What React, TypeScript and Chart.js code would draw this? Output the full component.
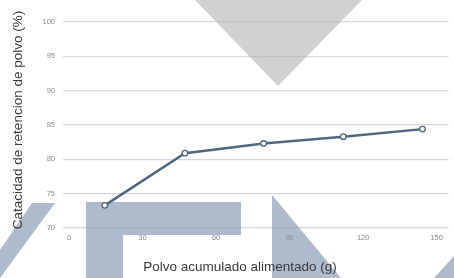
import React, { useEffect, useRef } from "react";
import { Chart, registerables } from "chart.js";

Chart.register(...registerables);

const xValues = [14.6, 47.3, 79.4, 111.9, 144.2];
const yValues = [73.3, 80.9, 82.3, 83.3, 84.4];
const xTicks = [0, 30, 60, 90, 120, 150];
const xTitle = "Polvo acumulado alimentado (g)";
const yTitle = "Catacidad de retencion de polvo (%)";

const watermark = {
  id: "watermark",
  beforeDatasetsDraw(chart: any) {
    const ctx = chart.ctx;
    ctx.save();
    ctx.fillStyle = "rgba(175,175,175,0.58)";
    ctx.beginPath();
    ctx.moveTo(195, 0);
    ctx.lineTo(362, 0);
    ctx.lineTo(278, 86);
    ctx.closePath();
    ctx.fill();
    ctx.fillStyle = "rgba(125,145,172,0.62)";
    ctx.beginPath();
    ctx.moveTo(0, 250);
    ctx.lineTo(32, 203);
    ctx.lineTo(55, 203);
    ctx.lineTo(0, 278);
    ctx.closePath();
    ctx.fill();
    ctx.beginPath();
    ctx.moveTo(86, 202);
    ctx.lineTo(241, 202);
    ctx.lineTo(241, 235);
    ctx.lineTo(123, 235);
    ctx.lineTo(123, 278);
    ctx.lineTo(86, 278);
    ctx.closePath();
    ctx.fill();
    ctx.beginPath();
    ctx.moveTo(272, 195);
    ctx.lineTo(341, 278);
    ctx.lineTo(272, 278);
    ctx.closePath();
    ctx.fill();
    ctx.beginPath();
    ctx.moveTo(454, 256);
    ctx.lineTo(454, 278);
    ctx.lineTo(434, 278);
    ctx.closePath();
    ctx.fill();
    ctx.restore();
  },
};

const axisTitles = {
  id: "axisTitles",
  afterDraw(chart: any) {
    const ctx = chart.ctx;
    ctx.save();
    ctx.fillStyle = "#3a3a3a";
    ctx.font = "13.5px 'Liberation Sans'";
    ctx.textAlign = "center";
    ctx.textBaseline = "middle";
    ctx.fillText(xTitle, 240, 267);
    ctx.translate(18, 120);
    ctx.rotate(-Math.PI / 2);
    ctx.fillText(yTitle, 0, 0);
    ctx.restore();
  },
};

export default function App() {
  const ref = useRef<HTMLCanvasElement>(null);
  useEffect(() => {
    document.body.style.margin = "0";
    const chart = new Chart(ref.current as HTMLCanvasElement, {
      type: "scatter",
      data: {
        datasets: [
          {
            data: xValues.map((x, i) => ({ x, y: yValues[i] })),
            showLine: true,
            borderColor: "#52687f",
            borderWidth: 2.5,
            pointRadius: 2.8,
            pointBorderWidth: 1.3,
            pointBackgroundColor: "#ffffff",
            pointBorderColor: "#4f6680",
          },
        ],
      },
      plugins: [watermark, axisTitles],
      options: {
        animation: false,
        responsive: false,
        layout: { padding: { top: 22, right: 0, left: 0, bottom: 0 } },
        plugins: { legend: { display: false }, tooltip: { enabled: false } },
        scales: {
          x: {
            type: "linear",
            min: -2.44,
            max: 154.9,
            afterBuildTicks: (s: any) => {
              s.ticks = xTicks.map((v) => ({ value: v }));
            },
            afterFit: (s: any) => {
              s.height = 50;
            },
            grid: { display: false, drawTicks: false },
            border: { display: false },
            ticks: {
              padding: 5,
              font: { size: 7.5, family: "Liberation Sans" },
              color: "#8a8a8a",
            },
          },
          y: {
            min: 70,
            max: 100,
            afterFit: (s: any) => {
              s.width = 63;
            },
            ticks: {
              stepSize: 5,
              padding: 8,
              font: { size: 7.5, family: "Liberation Sans" },
              color: "#8a8a8a",
            },
            grid: { color: "#d9d9d9", lineWidth: 1.3, drawTicks: false },
            border: { display: false },
          },
        },
      },
    } as any);
    return () => chart.destroy();
  }, []);
  return (
    <div style={{ width: 454, height: 278 }}>
      <canvas ref={ref} width={454} height={278} style={{ display: "block" }} />
    </div>
  );
}
